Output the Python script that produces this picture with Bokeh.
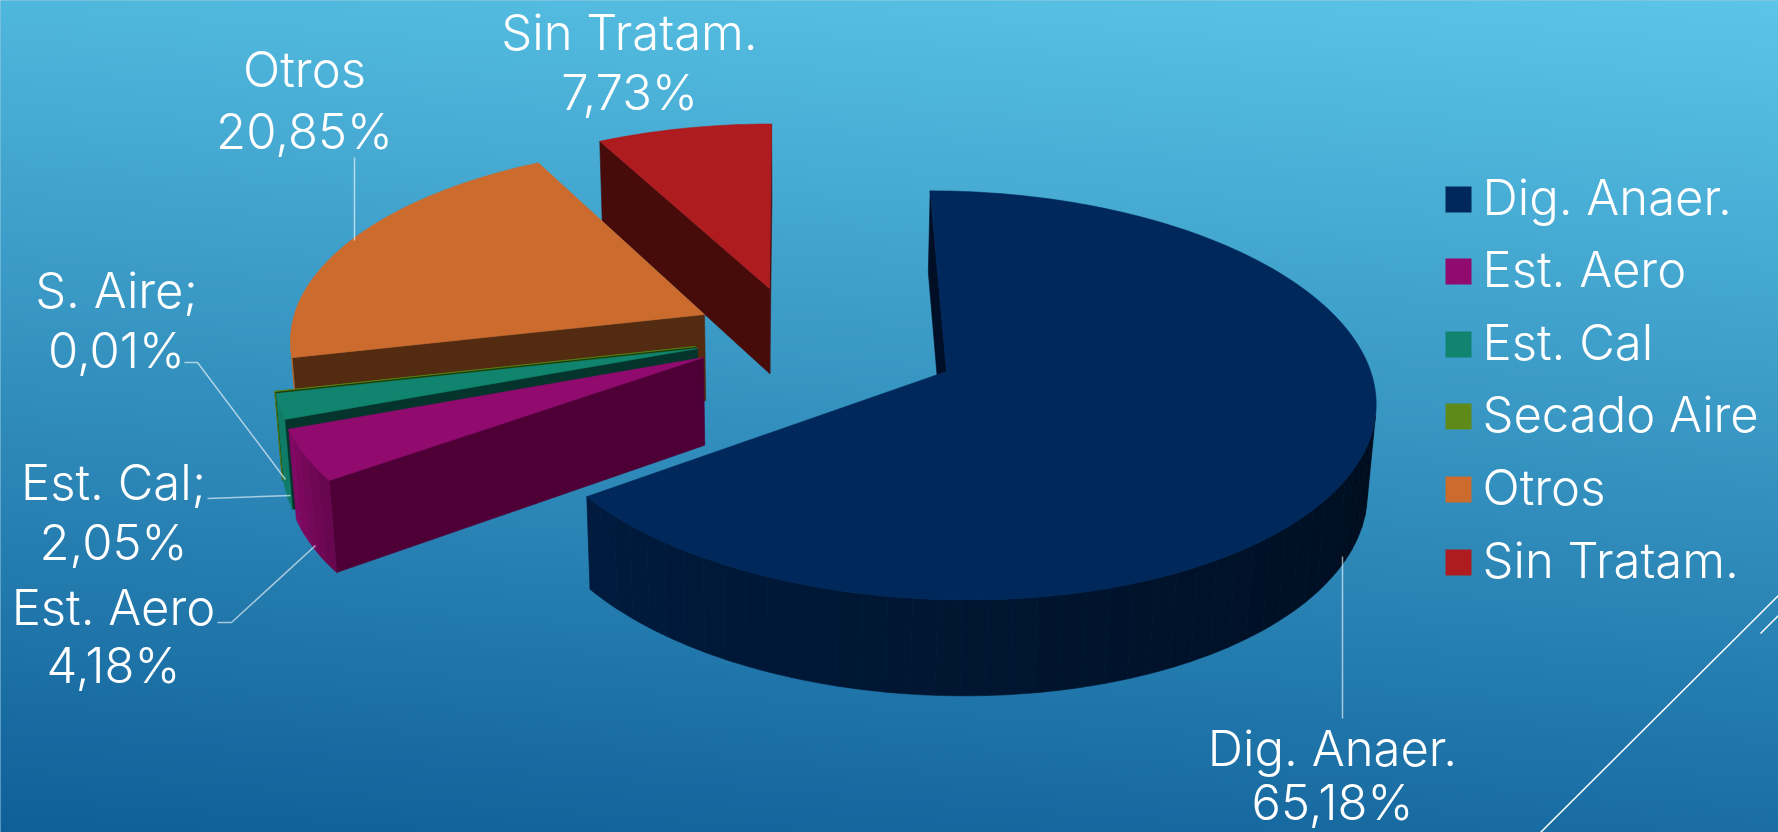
import numpy as np
from bokeh.plotting import figure
from bokeh.models import Range1d
from bokeh.core.properties import value
from bokeh.embed import file_html
from bokeh.resources import INLINE

# Shares of sludge treatment, percent
categories = ["Dig. Anaer.", "Est. Aero", "Est. Cal", "Secado Aire", "Otros", "Sin Tratam."]
shares = [65.18, 4.18, 2.05, 0.01, 20.85, 7.73]
label_names = ["Dig. Anaer.", "Est. Aero", "Est. Cal;", "S. Aire;", "Otros", "Sin Tratam."]
label_values = ["65,18%", "4,18%", "2,05%", "0,01%", "20,85%", "7,73%"]

# Slice colours: top face, radial wall
top_colors = ["#00285A", "#910A6E", "#10846E", "#5E8A1A", "#CB6B2D", "#AE1C20"]
wall_colors = ["#000F26", "#4E0036", "#04342B", "#1F3D08", "#522B11", "#470B0A"]

W, H = 1778, 832
FONT = "Inter Light"
FONT_PX = 49

# Perspective camera used for the exploded 3D pie
CX, CY = 790.0, 358.0
SCALE = 421.0
TILT_S = 0.472
TILT_C = np.sqrt(1 - TILT_S ** 2)
VIEW_D = 7.6
THICK = 0.24

# Where each exploded slice's apex lands on the page
apex_px = [(946, 371), (703, 357), (697, 348), (695, 346), (704, 314), (769, 288)]


def project(x, z, h=0.0):
    w = 1 + (z * TILT_C - h * TILT_S) / VIEW_D
    return CX + SCALE * x / w, CY - SCALE * (z * TILT_S + h * TILT_C) / w


def apex_world(px, py):
    q = (CY - py) / (SCALE * TILT_S)
    z = q / (1 - q * TILT_C / VIEW_D)
    w = 1 + z * TILT_C / VIEW_D
    return (px - CX) * w / SCALE, z


def mix(color, f):
    r, g, b = int(color[1:3], 16), int(color[3:5], 16), int(color[5:7], 16)
    return "#%02x%02x%02x" % (int(r * f), int(g * f), int(b * f))


def side_shade(deg):
    f = 0.33 + 0.0027 * (deg - 100)
    if deg > 234:
        f += 0.012 * (deg - 234)
    return float(np.clip(f, 0.3, 0.95))


def area(xs, ys):
    return sum(xs[i] * ys[(i + 1) % len(xs)] - xs[(i + 1) % len(xs)] * ys[i] for i in range(len(xs)))


p = figure(width=W, height=H, x_range=Range1d(0, W), y_range=Range1d(H, 0),
           toolbar_location=None, output_backend="svg", min_border=0,
           background_fill_color="#3A9CC8", border_fill_color="#3A9CC8")
p.axis.visible = False
p.grid.visible = False
p.outline_line_color = None

# Diagonal page background
gy, gx = np.mgrid[0:H, 0:W]
t = (gy / H) * 0.86 + (1 - gx / W) * 0.14
c0, c1 = np.array([0x5B, 0xC6, 0xE8]), np.array([0x0F, 0x5F, 0x98])
img = np.zeros((H, W), dtype=np.uint32)
view = img.view(dtype=np.uint8).reshape((H, W, 4))
for k in range(3):
    view[:, :, k] = (c0[k] + (c1[k] - c0[k]) * t).astype(np.uint8)
view[:, :, 3] = 255
p.image_rgba(image=[img], x=-3, y=-3, dw=W + 6, dh=H + 6)

# Corner decoration lines
p.line([1540, 1778], [832, 595], line_color="white", line_width=1.5)
p.line([1760, 1778], [633, 615], line_color="white", line_width=1.5)

# Slices, painted from back to front
edges = np.concatenate([[0], np.cumsum(shares)]) / sum(shares) * 360.0
for idx in [5, 4, 3, 2, 1, 0]:
    a0, a1 = edges[idx], edges[idx + 1]
    ox, oz = apex_world(*apex_px[idx])
    n = max(2, int((a1 - a0) / 1.0) + 1)
    ang = np.radians(np.linspace(a0, a1, n))
    rx, rz = ox + np.sin(ang), oz + np.cos(ang)
    top = [project(a, b) for a, b in zip(rx, rz)]
    bot = [project(a, b, -THICK) for a, b in zip(rx, rz)]
    ax_t, ay_t = project(ox, oz)
    ax_b, ay_b = project(ox, oz, -THICK)
    xs, ys, cols = [], [], []
    # start wall
    q = [(ax_t, ay_t), top[0], bot[0], (ax_b, ay_b)]
    if area([v[0] for v in q], [v[1] for v in q]) < 0:
        xs.append([v[0] for v in q]); ys.append([v[1] for v in q]); cols.append(wall_colors[idx])
    # end wall
    q = [(ax_t, ay_t), (ax_b, ay_b), bot[-1], top[-1]]
    if area([v[0] for v in q], [v[1] for v in q]) < 0:
        xs.append([v[0] for v in q]); ys.append([v[1] for v in q]); cols.append(wall_colors[idx])
    # outer rim, shaded in bands by heading
    step = 3
    for i in range(0, n - 1, step):
        j = min(i + step, n - 1)
        rt, rb = top[i:j + 1], bot[i:j + 1]
        q = rt + rb[::-1]
        if area([v[0] for v in q], [v[1] for v in q]) < 0:
            mid = 0.5 * (np.degrees(ang[i]) + np.degrees(ang[j]))
            xs.append([v[0] for v in q]); ys.append([v[1] for v in q]); cols.append(mix(top_colors[idx], side_shade(mid)))
    # top face
    xs.append([ax_t] + [v[0] for v in top]); ys.append([ay_t] + [v[1] for v in top]); cols.append(top_colors[idx])
    p.patches(xs, ys, fill_color=cols, line_color=cols, line_width=0.6)

# Leader lines from labels to slices
leaders = [
    ([1342, 1342], [556, 718]),
    ([217, 231, 315], [622, 622, 545]),
    ([207, 290], [498, 495]),
    ([184, 197, 285], [362, 362, 479]),
    ([354, 354], [157, 240]),
]
for lx, ly in leaders:
    p.line(lx, ly, line_color="white", line_alpha=0.6, line_width=1.5)

# Data labels: name over value
label_pos = [(1332, 748, 802), (113, 607, 665), (113, 482, 542), (116, 290, 350), (304, 69, 131), (629, 32, 92)]
for name, val, (lx, y0, y1) in zip(label_names, label_values, label_pos):
    p.text([lx, lx], [y0, y1], text=[name, val], text_color="white", text_font=value(FONT),
           text_font_size=f"{FONT_PX}px", text_align="center", text_baseline="middle")

# Legend column
legend_y = [199, 271, 344, 416, 489, 562]
for name, col, ly in zip(categories, top_colors, legend_y):
    p.quad(left=[1445], right=[1471], top=[ly - 13], bottom=[ly + 13], fill_color=col, line_color=None)
    p.text([1482], [ly - 2], text=[name], text_color="white", text_font=value(FONT),
           text_font_size=f"{FONT_PX}px", text_align="left", text_baseline="middle")

open("out.html", "w").write(file_html(p, INLINE))
